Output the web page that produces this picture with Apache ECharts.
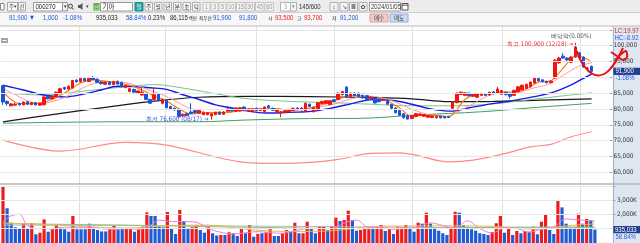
<!DOCTYPE html>
<html><head><meta charset="utf-8">
<script src="https://cdn.jsdelivr.net/npm/echarts@6/dist/echarts.min.js"></script>
<style>html,body{margin:0;padding:0;background:#fff;overflow:hidden}#c{width:640px;height:243px}</style>
</head><body><div id="c"></div>
<script>
// ---------------- DATA ----------------
const dates = [
'2023/06/05','2023/06/07','2023/06/08','2023/06/09','2023/06/12','2023/06/13','2023/06/14','2023/06/15','2023/06/16','2023/06/19','2023/06/20','2023/06/21','2023/06/22','2023/06/23','2023/06/26','2023/06/27','2023/06/28','2023/06/29','2023/06/30',
'2023/07/03','2023/07/04','2023/07/05','2023/07/06','2023/07/07','2023/07/10','2023/07/11','2023/07/12','2023/07/13','2023/07/14','2023/07/17','2023/07/18','2023/07/19','2023/07/20','2023/07/21','2023/07/24','2023/07/25','2023/07/26','2023/07/27','2023/07/28','2023/07/31',
'2023/08/01','2023/08/02','2023/08/03','2023/08/04','2023/08/07','2023/08/08','2023/08/09','2023/08/10','2023/08/11','2023/08/14','2023/08/16','2023/08/17','2023/08/18','2023/08/21','2023/08/22','2023/08/23','2023/08/24','2023/08/25','2023/08/28','2023/08/29','2023/08/30','2023/08/31',
'2023/09/01','2023/09/04','2023/09/05','2023/09/06','2023/09/07','2023/09/08','2023/09/11','2023/09/12','2023/09/13','2023/09/14','2023/09/15','2023/09/18','2023/09/19','2023/09/20','2023/09/21','2023/09/22','2023/09/25','2023/09/26','2023/09/27',
'2023/10/04','2023/10/05','2023/10/06','2023/10/10','2023/10/11','2023/10/12','2023/10/13','2023/10/16','2023/10/17','2023/10/18','2023/10/19','2023/10/20','2023/10/23','2023/10/24','2023/10/25','2023/10/26','2023/10/27','2023/10/30','2023/10/31',
'2023/11/01','2023/11/02','2023/11/03','2023/11/06','2023/11/07','2023/11/08','2023/11/09','2023/11/10','2023/11/13','2023/11/14','2023/11/15','2023/11/16','2023/11/17','2023/11/20','2023/11/21','2023/11/22','2023/11/23','2023/11/24','2023/11/27','2023/11/28','2023/11/29','2023/11/30',
'2023/12/01','2023/12/04','2023/12/05','2023/12/06','2023/12/07','2023/12/08','2023/12/11','2023/12/12','2023/12/13','2023/12/14','2023/12/15','2023/12/18','2023/12/19','2023/12/20','2023/12/21','2023/12/22','2023/12/26','2023/12/27','2023/12/28',
'2024/01/02','2024/01/03','2024/01/04','2024/01/05'];

const opens = [87300,82400,81000,81200,81700,81300,82300,81400,82000,81200,
81300,84000,83200,83800,85000,86800,86300,86600,89100,88600,
89600,88700,89900,89400,88500,87800,88500,87700,88700,88400,
86800,85500,86200,85000,84400,84700,83000,83000,84800,81800,
82800,80800,80200,79800,77800,78500,79000,79500,78700,78200,
78200,77800,78200,79000,78300,79300,80200,79300,79400,80600,
79300,79300,80200,79500,79200,81000,80200,79200,78800,78900,
79100,79500,80300,79700,79300,81500,79100,79800,81700,81700,
81400,82900,83000,84500,86900,83900,85000,85000,84300,84200,
83300,83400,83000,82700,82800,81400,80300,79500,78500,77800,
77000,77600,78000,77700,77400,77300,77200,77700,77600,77500,
80200,82000,84600,84300,85000,84000,83700,84300,84800,84400,
85400,85000,84600,85300,84800,84300,85500,86100,86500,87000,
88200,89600,89200,88700,88300,89800,94600,96700,96100,94800,
96400,97700,96400,92800,93500];
const closes = [82200,81700,81600,81500,81300,82200,81500,82000,81300,81800,
83800,83200,84000,85300,86400,86300,87200,89000,88600,89700,
88900,89700,89300,88400,88000,88500,87700,88600,87900,87000,
87400,86400,85300,85700,85300,83000,81800,84500,82600,83000,
80400,80000,79700,77500,78300,77900,78600,78800,79500,78900,
78800,78400,78900,78300,79000,80000,79400,80300,80400,79700,
80000,79900,79500,80000,80600,80400,79600,79700,79100,79400,
79800,80200,79800,80300,81800,80800,80500,82000,82400,82600,
82600,82400,85000,85500,83800,85000,84200,83900,83500,82900,
83800,81900,82300,83000,81500,80200,78800,78000,77200,76800,
77900,78500,78400,78200,77900,77700,77600,77200,77200,77300,
82300,85000,85300,85100,84200,84600,84800,84900,84300,85300,
84800,86300,85800,84500,84000,85900,87000,87500,87800,88500,
89800,88900,88600,88300,88800,95400,96100,96100,95500,96400,
99600,96100,93300,92900,91900];
const lows = [81300,81000,80800,81000,81100,81200,81300,81200,81100,81000,
81200,83000,83000,83600,84800,86000,86100,86500,88300,88400,
88700,88500,89100,88200,87700,87600,87500,87500,87700,86800,
86500,85300,85000,84800,84200,82800,81600,82800,82400,81500,
80200,79800,79400,77300,77500,77700,78400,78500,78500,78000,
78000,76600,78000,78100,78100,79100,79200,79100,79200,79500,
79100,79100,79300,79300,79000,80200,79400,79000,77400,78700,
78900,79300,79600,79500,79100,80600,78900,79600,81500,81500,
81200,82200,82800,84300,83600,83700,84000,83700,83300,82700,
83100,81700,82100,82500,81300,80000,78600,77800,77000,76700,
76800,77400,77800,77500,77200,77100,77000,77000,77000,77100,
80000,81800,84400,84100,84000,83800,83500,84100,84100,84200,
84600,84800,84400,84300,83300,84100,85300,85900,86300,86800,
88000,88700,88400,88100,88100,89600,94300,95800,95200,94600,
96200,95800,93000,92300,91200];
const highs = [87600,82600,81900,81900,82000,82400,82500,82200,82100,82000,
84000,84300,84200,85500,86700,87000,87400,89200,89400,89900,
89800,90000,90400,89600,88800,88700,88800,88900,89000,88600,
87600,86700,86400,85900,86900,84900,83200,86600,85000,83200,
83000,81000,80400,80000,78600,78800,81800,79700,79700,79200,
79000,78600,79100,79200,79300,80200,80400,80500,80600,80800,
80200,80100,80400,80200,80800,81300,80400,79900,79300,79600,
80000,80400,80500,80500,82000,81700,80700,82200,82600,82800,
82800,83100,85200,85700,87200,85200,85200,85200,84500,84400,
84000,83600,83200,83200,83000,81600,80500,79700,78700,78000,
78100,78700,78600,78400,78100,77900,77800,77900,77800,77700,
82500,85200,85500,85300,85200,84800,85000,85100,85000,85500,
85600,87000,86000,85500,85000,86100,87200,87700,88000,88700,
90000,89900,89400,88900,89000,95800,96500,97700,96400,96800,
100900,98000,96600,93300,93700];

// volume in thousands of shares
const volumesK = [3950,2430,1420,1100,1030,1380,980,1380,610,720,
1650,790,960,1310,1100,960,790,1890,960,960,
960,1350,1000,910,810,810,1000,1190,960,980,
1030,1030,790,960,1140,2140,1890,1890,1140,1100,
2170,1030,630,2310,1540,980,1100,1260,910,720,
1100,680,520,560,560,750,680,490,1030,680,
1260,440,630,680,750,960,490,490,680,910,
770,1420,680,680,1490,1030,680,1190,1190,910,
1190,1770,1540,1610,2260,1610,860,910,980,1100,
1100,1100,1260,840,960,630,1140,1100,1260,1030,
790,1420,1350,2120,1350,1100,860,680,560,1030,
2190,2120,1260,1140,960,860,680,630,560,770,
1380,1890,720,1100,560,840,680,840,790,1140,
610,1490,2000,910,630,3000,2490,1350,1100,1100,
2050,1350,1680,1589.1,935.033];
// r = up vs previous close, b = down
const volDir = 'rbbbbrbrbr'+'rbrrbbbrbb'+'brbbbbrrbb'+'rrbrrrbbbb'+'rbbrbbrrbb'+'rbbrbrbbrb'+'rbrbrrbbrr'+'brbrrbbrrb'+'rrbrrbbrrr'+'brrbrbrrrb'+'brbrbbbbbr'+'rbbbbbbbbr'+'rrbrbrbrbr'+'brrbbrbbbb'+'rbrbb';

// moving averages: [day index, price]
const ma5 = [[0,85400],[2,83000],[4,81700],[7,81700],[10,82100],[13,83600],[16,85800],[19,88200],[22,89200],[25,88800],[28,88100],[31,87500],[34,86000],[37,84100],[40,82500],[43,80100],[46,78400],[49,78700],[52,78900],[55,78900],[58,79800],[61,80100],[64,80000],[67,80100],[70,79500],[73,79900],[76,80600],[79,81700],[82,83000],[85,84300],[88,84100],[91,83200],[94,82500],[97,80300],[100,77700],[103,78000],[106,78000],[109,77400],[110,78300],[111,79800],[113,83000],[116,84800],[119,84800],[122,85300],[125,85300],[128,86400],[131,88500],[134,88900],[135,90000],[136,91400],[137,92900],[138,94400],[139,95900],[140,96700],[141,96700],[142,96200],[143,95700],[144,94800]];
const ma10 = [[0,86500],[3,84500],[6,82600],[9,81700],[12,82300],[15,83600],[18,85600],[21,87500],[24,88500],[27,88700],[30,88300],[33,87300],[36,85800],[39,84500],[42,82600],[45,80600],[48,79400],[51,78600],[54,78700],[57,79200],[60,79400],[63,79800],[66,80000],[69,79800],[72,79900],[75,80100],[78,80700],[81,81500],[84,82800],[87,83700],[90,84000],[93,83400],[96,82200],[99,80400],[102,79000],[105,77900],[108,77700],[110,78200],[112,79600],[115,81600],[118,83800],[121,85000],[124,84900],[127,85500],[130,86700],[133,87600],[136,89800],[139,92200],[141,93600],[144,94600]];
const ma20 = [[0,87500],[5,86000],[10,84400],[15,83800],[20,84800],[24,86000],[28,87200],[32,87100],[36,86700],[40,86200],[44,84500],[48,83000],[52,81300],[56,80300],[60,79300],[64,78700],[68,78800],[72,79000],[76,79300],[80,80200],[84,81300],[88,82500],[92,83100],[96,82600],[100,81500],[104,80200],[108,79400],[110,79300],[113,80100],[118,81300],[124,82500],[130,83900],[135,85500],[139,87600],[142,89700],[144,91000]];
const ma60 = [[0,85100],[10,84400],[20,85700],[30,87000],[37,87700],[45,86400],[52,84800],[60,83200],[70,82400],[80,82000],[90,81500],[100,81000],[110,81000],[120,81600],[128,82800],[136,84000],[144,85100]];
const ma120 = [[0,75900],[12,78200],[25,80500],[37,82500],[48,83700],[60,84000],[75,83900],[90,83600],[100,83200],[109,82300],[120,82400],[132,82800],[144,83200]];
const ma240 = [[0,75500],[30,75950],[48,75950],[59,76480],[75,76960],[87,77020],[101,78070],[117,79110],[130,80440],[144,81770]];
const longLine = [[0,70150],[14,66670],[30,69430],[40,68580],[58,63290],[67,62780],[77,63290],[82,64050],[90,65950],[97,66130],[101,65400],[109,63290],[115,63820],[123,65950],[129,68030],[134,68790],[139,71200],[144,72780]];
// volume averages (thousands)
const volMa5 = [[0,1500],[2,1900],[4,2000],[6,1200],[9,1000],[12,1000],[15,1100],[18,1100],[21,1100],[24,1000],[27,950],[30,1000],[33,950],[36,1250],[38,1600],[41,1500],[44,1500],[47,1450],[50,1000],[53,750],[56,620],[59,720],[62,800],[65,720],[68,680],[71,850],[74,1000],[77,1000],[80,1000],[83,1400],[86,1600],[89,1100],[92,1100],[95,960],[98,1020],[101,1120],[104,1410],[107,1220],[110,1060],[113,1550],[116,1000],[119,700],[122,1060],[125,1020],[128,750],[131,970],[134,1130],[137,1680],[140,1620],[143,1560],[144,1530]];
const volMa20 = [[0,1400],[10,1300],[20,1150],[30,1050],[40,1210],[50,1250],[60,940],[70,800],[80,860],[90,1150],[100,1190],[110,1200],[120,1150],[130,950],[137,1200],[144,1330]];
const volMa60 = [[0,1350],[30,1250],[60,1100],[90,1000],[120,1100],[144,1120]];
const volMa120 = [[0,1250],[50,1200],[100,1100],[144,1080]];

const exDivDate = '2023/12/27';
const exDivText = '배당락(0.00%)';
const bestAsk = 91900, bestBid = 91800;
const turnoverPct = '0.23%';
const tradeValueM = 86115; // 백만
const stockCode = '000270', stockName = '기아';
const priceTicks = [60000,65000,70000,75000,80000,85000,95000,100000];
const volTicksK = [2000,3000];

// ---------------- CHART ----------------
const COND = "'DejaVu Sans Condensed','Liberation Sans',sans-serif";
const LIB = "'Liberation Sans',sans-serif";
const KR = "'Noto Sans CJK KR',sans-serif";
const RED = '#f01414', BLUE = '#1a55d8';
const n = dates.length;
const cats = dates.concat(['', '', '', '']);
const monthStart = new Set();
for (let i = 1; i < n; i++) if (dates[i].slice(5, 7) !== dates[i - 1].slice(5, 7)) monthStart.add(i);
const fmt = v => Math.round(v).toLocaleString('en-US');

const GL = 0.94, GR = 26.6;
const chart = echarts.init(document.getElementById('c'), null, {renderer: 'canvas'});

const last = n - 1;
const hiIdx = highs.indexOf(Math.max(...highs));
const loIdx = lows.indexOf(Math.min(...lows));
const exIdx = dates.indexOf(exDivDate);

function line(data, color, width, xi, yi, extra) {
  return Object.assign({type: 'line', data, xAxisIndex: xi, yAxisIndex: yi, symbol: 'none', smooth: 0.35,
    silent: true, lineStyle: {color, width}, z: 3}, extra || {});
}
const xCommon = {type: 'category', data: cats, boundaryGap: true, axisLine: {show: false}, axisTick: {show: false}, axisLabel: {show: false}};
const vSplit = {show: true, interval: (i) => monthStart.has(i), lineStyle: {color: '#e0e0e0', width: 1}};
const mkLabel = (formatter, color, extra) => Object.assign({show: true, formatter, color, fontSize: 6.3, fontFamily: COND}, extra);

const option = {
  animation: false,
  backgroundColor: '#ffffff',
  grid: [
    {left: GL, right: GR, top: 29.9, bottom: 70.8},
    {left: GL, right: GR, top: 185.8, bottom: 0},
    {left: GL, right: GR, top: 26.5, bottom: 59}
  ],
  xAxis: [
    Object.assign({gridIndex: 0, splitLine: {show: false}}, xCommon),
    Object.assign({gridIndex: 1, splitLine: vSplit}, xCommon),
    Object.assign({gridIndex: 2, splitLine: vSplit}, xCommon)
  ],
  yAxis: [
    {gridIndex: 0, type: 'value', position: 'right', min: 60000, max: 105000, interval: 5000, z: 5,
      axisLine: {show: false}, axisTick: {show: true, length: 2, lineStyle: {color: '#8a9ab0'}},
      axisLabel: {margin: 3.5, fontSize: 6.3, color: '#333', fontFamily: COND,
        formatter: v => priceTicks.includes(v) ? fmt(v) : ''},
      splitLine: {lineStyle: {color: '#e6e6e6', width: 1}}},
    {gridIndex: 1, type: 'value', position: 'right', min: 0, max: 4000, interval: 1000, z: 5,
      axisLine: {show: false}, axisTick: {show: true, length: 2, lineStyle: {color: '#8a9ab0'}},
      axisLabel: {margin: 3.5, fontSize: 6.3, color: '#333', fontFamily: COND,
        formatter: v => volTicksK.includes(v) ? fmt(v) + 'K' : ''},
      splitLine: {lineStyle: {color: '#e6e6e6', width: 1}}},
    {gridIndex: 2, type: 'value', show: false, min: 0, max: 1}
  ],
  series: [
    line(longLine, '#ff8a8a', 1.2, 0, 0),
    line(ma240, '#3aa060', 1, 0, 0),
    line(ma120, '#1a1a1a', 1.2, 0, 0),
    line(ma60, '#74c888', 1, 0, 0),
    line(ma20, '#1818e8', 1.4, 0, 0),
    line(ma10, '#ff9a9a', 1, 0, 0),
    line(ma5, '#ff7a10', 1.2, 0, 0),
    {type: 'candlestick', xAxisIndex: 0, yAxisIndex: 0, z: 4, barWidth: 3,
      data: dates.map((d, i) => [opens[i], closes[i], lows[i], highs[i]]),
      itemStyle: {color: RED, color0: BLUE, borderColor: RED, borderColor0: BLUE, borderWidth: 1},
      markPoint: {symbol: 'circle', symbolSize: 0.1, silent: true, z: 6,
        data: [
          {coord: [hiIdx, highs[hiIdx]], label: mkLabel('최고 ' + fmt(highs[hiIdx]) + ' (' + dates[hiIdx].slice(5) + ') →', '#ee2a2a', {position: 'left', distance: 2, offset: [0, 2]})},
          {coord: [loIdx, lows[loIdx]], label: mkLabel('최저 ' + fmt(lows[loIdx]) + ' (' + dates[loIdx].slice(5) + ') →', '#4646f0', {position: 'left', distance: 3})},
          {coord: [exIdx, highs[hiIdx]], label: mkLabel(exDivText, '#555', {position: 'top', distance: 2, offset: [0, -1]})}
        ]}},
    {type: 'bar', xAxisIndex: 1, yAxisIndex: 1, barWidth: 3.2, z: 2,
      data: volumesK.map((v, i) => ({value: v, itemStyle: {color: volDir[i] === 'r' ? '#ee1c1c' : '#1f5bd1'}}))},
    line(volMa120, '#b8b8b8', 1, 1, 1),
    line(volMa60, '#7cc88a', 1, 1, 1),
    line(volMa20, '#f0b848', 1, 1, 1),
    line(volMa5, '#f07ce8', 1, 1, 1)
  ]
};
chart.setOption(option);

// ---------------- CHROME (toolbar, info row, axis panel) ----------------
// narrow digits: Liberation Sans squeezed horizontally
function T(x, y, text, fill, size, fam, align, sx) {
  const narrow = !fam;
  return {type: 'text', x, y, z: 50, silent: true, scaleX: sx || (narrow ? 0.8 : 1),
    style: {text, fill, font: size + 'px ' + (fam || LIB), align: align || 'left', verticalAlign: 'middle',
      textAlign: align || 'left', textVerticalAlign: 'middle'}};
}
function R(x, y, w, h, fill, stroke, z) {
  return {type: 'rect', z: z === undefined ? 40 : z, silent: true, shape: {x, y, width: w, height: h},
    style: {fill, stroke: stroke || null, lineWidth: stroke ? 1 : 0}};
}
function L(x1, y1, x2, y2, color, w, z) {
  return {type: 'line', z: z === undefined ? 45 : z, silent: true, shape: {x1, y1, x2, y2}, style: {stroke: color, lineWidth: w || 1}};
}

const g = [];
// toolbar background
g.push(R(0, 0, 640, 12.5, '#ececec', null, 30));
g.push(R(0, 12.5, 640, 13, '#f7f7f7', null, 30));
g.push(L(0, 12.5, 640, 12.5, '#d0d0d0', 1, 31));
g.push(L(0, 26, 640, 26, '#b8b8b8', 1, 31));
// row 1
g.push(R(0.5, 3.5, 3.5, 6.5, '#fff', '#888'));
g.push(R(7.5, 2.5, 10, 8.5, '#fafafa', '#a8a8a8'));
g.push(T(9, 7, '주', '#444', 5.5, KR)); g.push(T(14, 7, '▾', '#444', 5, LIB, 'left', 1));
g.push(R(18.5, 2.5, 7, 8.5, '#fafafa', '#a8a8a8'));
g.push(T(22, 7, '전', '#444', 5.5, KR, 'center'));
g.push(R(33.5, 2.5, 29, 8.5, '#fff', '#999'));
g.push(T(35.5, 7, stockCode, '#222', 7.5));
g.push(R(62.5, 2.5, 5, 8.5, '#eee', '#999'));
g.push(T(65, 7, '▾', '#333', 5, LIB, 'center', 1));
g.push({type: 'circle', z: 45, silent: true, shape: {cx: 70.5, cy: 6.2, r: 2}, style: {fill: 'none', stroke: '#444', lineWidth: 1}});
g.push(L(72, 7.8, 73.8, 9.6, '#444', 1));
g.push(R(78, 5, 2, 3, '#555'));
g.push({type: 'polygon', z: 45, silent: true, shape: {points: [[80, 5], [82.5, 3], [82.5, 10], [80, 8]]}, style: {fill: '#555'}});
g.push(T(86, 7, '▾', '#444', 5, LIB, 'left', 1));
g.push(R(93.5, 3, 6, 7.5, '#5bb04a', null));
g.push(T(96.5, 6.8, '신', '#fff', 5, KR, 'center'));
g.push(R(100.5, 2.5, 32, 8.5, '#fff', '#999'));
g.push(T(102.5, 6.8, stockName, '#222', 6.5, KR));
g.push(R(135, 2.5, 8, 8.5, '#1fa3a0', '#1a8a88'));
g.push(T(139, 6.8, '일', '#fff', 5.5, KR, 'center'));
[['주', 145], ['월', 154.5], ['년', 164], ['분', 173.5], ['초', 183], ['틱', 192.5]].forEach(([s, x]) => {
  g.push(R(x, 2.5, 7.5, 8.5, '#f6f6f6', '#b0b0b0'));
  g.push(T(x + 3.75, 6.8, s, '#333', 5.5, KR, 'center'));
});
[['1', 203, 7], ['3', 211, 7], ['5', 219, 7], ['10', 227, 8.5], ['15', 236.5, 8.5], ['30', 246, 8.5], ['45', 255.5, 8.5], ['60', 265, 8.5]].forEach(([s, x, w]) => {
  g.push(R(x, 2.5, w, 8.5, '#f4f4f4', '#c4c4c4'));
  g.push(T(x + w / 2, 7, s, '#9a9a9a', 7, undefined, 'center'));
});
g.push(R(280.5, 2.5, 10, 8.5, '#fff', '#b0b0b0'));
g.push(T(285.5, 7, '3', '#9a9a9a', 7, undefined, 'center'));
g.push(R(290.5, 2.5, 6, 8.5, '#f4f4f4', '#b0b0b0'));
g.push(T(293.5, 7, '▾', '#777', 5, LIB, 'center', 1));
g.push(T(299, 7, n + '/600', '#333', 7.5));
[330, 340, 349.5, 359].forEach(x => g.push(R(x, 2.5, 8, 8.5, '#f4f4f4', '#b0b0b0')));
g.push(T(334, 7, '↕', '#444', 6, LIB, 'center', 1));
g.push(T(344, 7, '↘', '#444', 6, LIB, 'center', 1));
g.push(R(351.5, 4, 4, 5, '#888'));
g.push(T(363, 7, '✿', '#444', 6, 'DejaVu Sans', 'center', 1));
g.push(R(369.5, 2.5, 31, 8.5, '#fff', '#999'));
g.push(T(371, 7, dates[last], '#333', 7.5));
g.push(R(402, 3.5, 6, 6.5, '#fff', '#555'));
g.push(L(402, 5.2, 408, 5.2, '#555', 1));

// row 2 (info line)
const chg = closes[last] - closes[last - 1];
const chgPct = chg / closes[last - 1] * 100;
const volRatio = volumesK[last] / volumesK[last - 1] * 100;
const y2 = 18;
g.push(T(9, y2, fmt(closes[last]) + ' ▼', BLUE, 7.5));
g.push(T(43, y2, fmt(Math.abs(chg)), BLUE, 7.5));
g.push(T(63, y2, chgPct.toFixed(2) + '%', BLUE, 7.5));
g.push(T(96, y2, fmt(volumesK[last] * 1000), '#222', 7.5));
g.push(T(126, y2, volRatio.toFixed(2) + '%', BLUE, 7.5));
g.push(T(148, y2, turnoverPct, '#222', 7.5));
g.push(T(170, y2, fmt(tradeValueM), '#222', 7.5));
g.push(T(188.5, y2, '백만', '#222', 4.6, KR));
g.push(T(199, y2, '최우선', '#222', 4.6, KR));
g.push(T(213, y2, fmt(bestAsk), BLUE, 7.5));
g.push(T(239, y2, fmt(bestBid), BLUE, 7.5));
g.push(T(268, y2, '시', '#222', 5, KR));
g.push(T(275, y2, fmt(opens[last]), RED, 7.5));
g.push(T(297, y2, '고', '#222', 5, KR));
g.push(T(304, y2, fmt(highs[last]), RED, 7.5));
g.push(T(332, y2, '저', '#222', 5, KR));
g.push(T(340, y2, fmt(lows[last]), BLUE, 7.5));
g.push(R(370, 14, 18, 8, '#f5caca', '#d8a0a0'));
g.push(T(379, y2, '매수', '#333', 5.5, KR, 'center'));
g.push(R(390, 14, 18, 8, '#c9dcf5', '#98aed0'));
g.push(T(399, y2, '매도', '#333', 5.5, KR, 'center'));

// axis panel
g.push(R(613.4, 26.5, 26.6, 216.5, '#dde6f1', null, -5));
g.push(L(613.4, 26.5, 613.4, 243, '#9fb0c8', 1, 20));
g.push(L(0, 184, 640, 184, '#b4b4b4', 1.5, 20));
// pane tool icon
g.push(R(1, 38, 7, 5, '#a4a4a4', null));
g.push(L(2.5, 40.5, 6.5, 40.5, '#fff', 1));

const hc = (closes[last] - highs[hiIdx]) / highs[hiIdx] * 100;
const lc = (closes[last] - lows[loIdx]) / lows[loIdx] * 100;
g.push(T(614.5, 30.5, 'LC:' + lc.toFixed(2), '#e02424', 7.5));
g.push(T(614.5, 37.5, 'HC:' + hc.toFixed(2), '#2a5ae0', 7.5));

const py = chart.convertToPixel({yAxisIndex: 0}, closes[last]);
g.push(R(613.4, py - 3.6, 26.6, 7.2, '#1e3f8f', null, 48));
g.push(T(615.5, py, fmt(closes[last]), '#fff', 7.5));
g.push(T(615.5, py + 6.5, chgPct.toFixed(2) + '%', '#2a5ae0', 7.5));
const vy = chart.convertToPixel({yAxisIndex: 1}, volumesK[last]);
g.push(R(613.4, vy - 3.6, 26.6, 7.2, '#1e3f8f', null, 48));
g.push(T(615, vy, fmt(volumesK[last] * 1000), '#fff', 7.5));
g.push(T(615.5, vy + 7, volRatio.toFixed(2) + '%', '#2a5ae0', 7.5));

// hand-drawn red mark on the screenshot
g.push({type: 'polyline', z: 60, silent: true, shape: {smooth: 0.4, points: [[577, 51], [580, 59], [585, 67], [591, 73], [598, 75.5], [605, 73.5], [611, 68], [616, 61], [620, 54], [623, 48]]},
  style: {fill: 'none', stroke: '#e81010', lineWidth: 2}});
g.push({type: 'polyline', z: 60, silent: true, shape: {smooth: 0.3, points: [[611, 52], [617, 56], [623, 60], [627, 57], [626, 51], [620, 55], [615, 61]]},
  style: {fill: 'none', stroke: '#e81010', lineWidth: 2}});

chart.setOption({graphic: {elements: g}});
</script>
</body></html>
